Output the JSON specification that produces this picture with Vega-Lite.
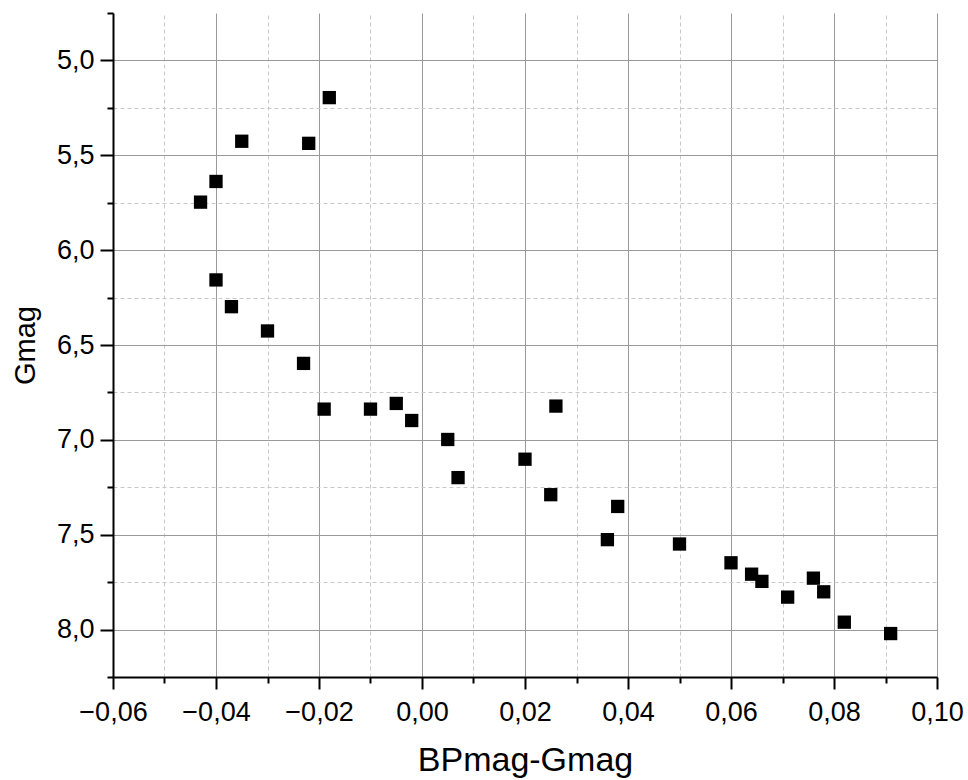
{
  "$schema": "https://vega.github.io/schema/vega-lite/v6.json",
  "width": 824,
  "height": 664,
  "autosize": {"type": "none"},
  "padding": {"left": 113, "top": 13, "right": 31, "bottom": 103},
  "background": "white",
  "config": {"view": {"stroke": null}},
  "data": {
    "values": [
      {"bp_g": -0.018, "gmag": 5.196},
      {"bp_g": -0.035, "gmag": 5.426},
      {"bp_g": -0.022, "gmag": 5.437},
      {"bp_g": -0.040, "gmag": 5.638},
      {"bp_g": -0.043, "gmag": 5.747},
      {"bp_g": -0.040, "gmag": 6.157},
      {"bp_g": -0.037, "gmag": 6.298},
      {"bp_g": -0.030, "gmag": 6.426},
      {"bp_g": -0.023, "gmag": 6.597},
      {"bp_g": -0.019, "gmag": 6.838},
      {"bp_g": -0.010, "gmag": 6.838},
      {"bp_g": -0.005, "gmag": 6.808},
      {"bp_g": -0.002, "gmag": 6.898},
      {"bp_g": 0.005, "gmag": 6.998},
      {"bp_g": 0.007, "gmag": 7.199},
      {"bp_g": 0.026, "gmag": 6.822},
      {"bp_g": 0.020, "gmag": 7.102},
      {"bp_g": 0.025, "gmag": 7.289},
      {"bp_g": 0.038, "gmag": 7.351},
      {"bp_g": 0.036, "gmag": 7.526},
      {"bp_g": 0.050, "gmag": 7.549},
      {"bp_g": 0.060, "gmag": 7.648},
      {"bp_g": 0.064, "gmag": 7.708},
      {"bp_g": 0.066, "gmag": 7.746},
      {"bp_g": 0.071, "gmag": 7.829},
      {"bp_g": 0.076, "gmag": 7.729},
      {"bp_g": 0.078, "gmag": 7.801},
      {"bp_g": 0.082, "gmag": 7.961},
      {"bp_g": 0.091, "gmag": 8.021}
    ]
  },
  "mark": {"type": "point", "shape": "square", "filled": true, "size": 177, "color": "black", "opacity": 1},
  "encoding": {
    "x": {
      "field": "bp_g",
      "type": "quantitative",
      "scale": {"domain": [-0.06, 0.1], "nice": false, "zero": false},
      "axis": {
        "title": "BPmag-Gmag",
        "values": [-0.06, -0.05, -0.04, -0.03, -0.02, -0.01, 0, 0.01, 0.02, 0.03, 0.04, 0.05, 0.06, 0.07, 0.08, 0.09, 0.1],
        "labelExpr": "abs(round(datum.value*100)) % 2 == 1 ? '' : replace(format(datum.value, '.2f'), '.', ',')",
        "grid": true,
        "gridColor": {"condition": {"test": "abs(round(datum.value*100)) % 2 == 1", "value": "#c8c8c8"}, "value": "#9a9a9a"},
        "gridDash": {"condition": {"test": "abs(round(datum.value*100)) % 2 == 1", "value": [4, 3]}, "value": []},
        "gridWidth": 1,
        "tickSize": {"condition": {"test": "abs(round(datum.value*100)) % 2 == 1", "value": 6}, "value": 12},
        "tickColor": "black",
        "tickWidth": 2,
        "domainColor": "black",
        "domainWidth": 2,
        "labelFont": "Liberation Sans",
        "labelFontSize": 27,
        "labelColor": "black",
        "labelPadding": 10,
        "labelOverlap": false,
        "labelFlush": false,
        "titleFont": "Liberation Sans",
        "titleFontSize": 34,
        "titleFontWeight": "normal",
        "titleColor": "black",
        "titlePadding": 18
      }
    },
    "y": {
      "field": "gmag",
      "type": "quantitative",
      "scale": {"domain": [4.75, 8.25], "reverse": true, "nice": false, "zero": false},
      "axis": {
        "title": "Gmag",
        "values": [4.75, 5, 5.25, 5.5, 5.75, 6, 6.25, 6.5, 6.75, 7, 7.25, 7.5, 7.75, 8, 8.25],
        "labelExpr": "round(datum.value*4) % 2 == 1 ? '' : replace(format(datum.value, '.1f'), '.', ',')",
        "grid": true,
        "gridColor": {"condition": {"test": "round(datum.value*4) % 2 == 1", "value": "#c8c8c8"}, "value": "#9a9a9a"},
        "gridDash": {"condition": {"test": "round(datum.value*4) % 2 == 1", "value": [4, 3]}, "value": []},
        "gridOpacity": {"condition": {"test": "datum.value < 4.8", "value": 0}, "value": 1},
        "gridWidth": 1,
        "tickSize": {"condition": {"test": "round(datum.value*4) % 2 == 1", "value": 6}, "value": 13},
        "tickColor": "black",
        "tickWidth": 2,
        "domainColor": "black",
        "domainWidth": 2,
        "labelFont": "Liberation Sans",
        "labelFontSize": 27,
        "labelColor": "black",
        "labelPadding": 6,
        "labelOverlap": false,
        "labelFlush": false,
        "titleFont": "Liberation Sans",
        "titleFontSize": 29,
        "titleFontWeight": "normal",
        "titleColor": "black",
        "titlePadding": 16
      }
    }
  }
}
